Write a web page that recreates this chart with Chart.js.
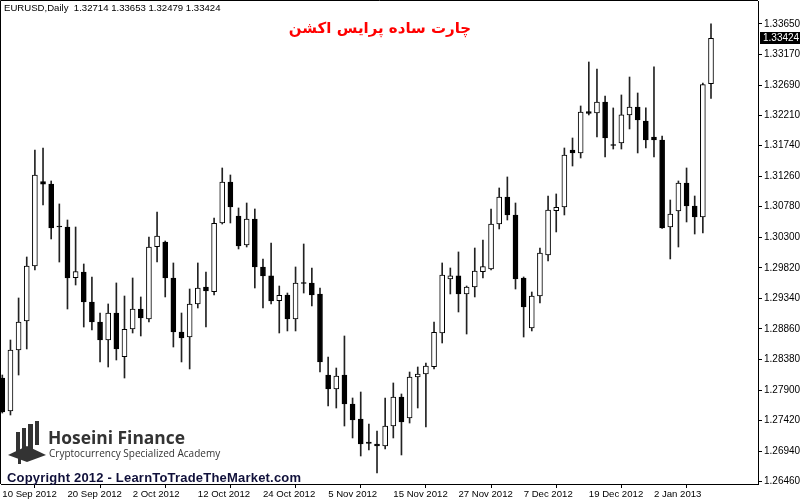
<!DOCTYPE html>
<html>
<head>
<meta charset="utf-8">
<script src="https://cdn.jsdelivr.net/npm/chart.js@4.4.0/dist/chart.umd.min.js"></script>
<style>
body { margin: 0; background: #fff; }
#wrap { position: relative; width: 800px; height: 500px; }
.t { position: absolute; white-space: nowrap; }
</style>
</head>
<body>
<div id="wrap">
  <canvas id="myChart" width="800" height="500"></canvas>
  <div class="t" style="left:4px;top:2px;font:9.6px 'Liberation Sans';color:#000">EURUSD,Daily&nbsp; 1.32714 1.33653 1.32479 1.33424</div>
  <div class="t" dir="rtl" style="left:270px;width:220px;text-align:center;top:19px;font:bold 15px 'DejaVu Sans';color:#f00">چارت ساده پرایس اکشن</div>
  <div class="t" style="left:48px;top:425px;font:700 17.4px 'Open Sans';color:#333">Hoseini Finance</div>
  <div class="t" style="left:49px;top:446px;font:10px 'Open Sans';color:#333">Cryptocurrency Specialized Academy</div>
  <div class="t" style="left:7px;top:470px;font:bold 13px 'Liberation Sans';letter-spacing:0.2px;color:#10103a">Copyright 2012 - LearnToTradeTheMarket.com</div>
</div>
<script>
// tick labels along the bottom, one every 8 candles
const dateLabels = ['10 Sep 2012', '20 Sep 2012', '2 Oct 2012', '12 Oct 2012', '24 Oct 2012',
    '5 Nov 2012', '15 Nov 2012', '27 Nov 2012', '7 Dec 2012', '19 Dec 2012', '2 Jan 2013'];
const dateIdx = [0, 8, 16, 24, 32, 40, 48, 56, 64, 72, 80];

const priceTicks = [1.26460, 1.26940, 1.27420, 1.27900, 1.28380, 1.28860, 1.29340, 1.29820,
    1.30300, 1.30780, 1.31260, 1.31740, 1.32210, 1.32690, 1.33170, 1.33650];

const opens = [
    1.28089, 1.27571, 1.28529, 1.28985, 1.29849, 1.31173, 1.31137, 1.30469, 1.30461, 1.29665,
    1.29754, 1.29283, 1.28969, 1.28686, 1.29110, 1.28424, 1.28859, 1.29173, 1.29016, 1.30152,
    1.30226, 1.29660, 1.28812, 1.28733, 1.29252, 1.29519, 1.29445, 1.30524, 1.31168, 1.30634,
    1.30178, 1.30587, 1.29833, 1.29692, 1.29304, 1.29393, 1.29016, 1.29582, 1.29582, 1.29409,
    1.28136, 1.27916, 1.28136, 1.27681, 1.27445, 1.27084, 1.27052, 1.27021, 1.27335, 1.27791,
    1.27461, 1.28105, 1.28152, 1.28267, 1.28796, 1.29644, 1.29692, 1.29409, 1.29519, 1.29759,
    1.29801, 1.30508, 1.30932, 1.30650, 1.29660, 1.28875, 1.29377, 1.30021, 1.30717, 1.30775,
    1.31671, 1.31624, 1.32273, 1.32252, 1.32425, 1.31749, 1.31781, 1.32221, 1.32346, 1.32126,
    1.31875, 1.31828, 1.30461, 1.30713, 1.31152, 1.30791, 1.30618, 1.32714
];
const highs = [
    1.28136, 1.28686, 1.29346, 1.29990, 1.31671, 1.31702, 1.31184, 1.30823, 1.30571, 1.30461,
    1.29880, 1.29676, 1.29110, 1.29252, 1.29582, 1.29377, 1.29660, 1.29362, 1.30304, 1.30697,
    1.30241, 1.29896, 1.29110, 1.29487, 1.29896, 1.29754, 1.30603, 1.31388, 1.31278, 1.30760,
    1.30838, 1.30744, 1.29959, 1.30210, 1.29534, 1.29424, 1.29833, 1.30194, 1.29817, 1.29503,
    1.28419, 1.28246, 1.28749, 1.27775, 1.27869, 1.27367, 1.27257, 1.27775, 1.28011, 1.27838,
    1.28183, 1.28262, 1.28325, 1.28969, 1.29896, 1.29817, 1.30069, 1.29534, 1.30131, 1.30257,
    1.30744, 1.31074, 1.31247, 1.30838, 1.29676, 1.29440, 1.30131, 1.30948, 1.30980, 1.31702,
    1.31859, 1.32362, 1.33053, 1.32943, 1.32519, 1.32331, 1.32535, 1.32817, 1.32566, 1.32331,
    1.32975, 1.31891, 1.30885, 1.31184, 1.31388, 1.30948, 1.32720, 1.33653
];
const lows = [
    1.27539, 1.27508, 1.28136, 1.28545, 1.29786, 1.30807, 1.30273, 1.29911, 1.29173, 1.29550,
    1.28890, 1.28843, 1.28341, 1.28262, 1.28372, 1.28089, 1.28796, 1.28749, 1.28969, 1.29911,
    1.29362, 1.28576, 1.28341, 1.28231, 1.29189, 1.28890, 1.29393, 1.30508, 1.30524, 1.30116,
    1.30147, 1.29503, 1.29189, 1.29252, 1.28796, 1.28828, 1.28828, 1.29424, 1.29220, 1.28183,
    1.27649, 1.27618, 1.27335, 1.27147, 1.26864, 1.26958, 1.26597, 1.26974, 1.27147, 1.26880,
    1.27382, 1.27618, 1.27320, 1.28231, 1.28639, 1.29409, 1.29126, 1.28780, 1.29362, 1.29660,
    1.29786, 1.30430, 1.30571, 1.29487, 1.28733, 1.28828, 1.29267, 1.29927, 1.30383, 1.30650,
    1.31419, 1.31545, 1.32221, 1.31875, 1.31561, 1.31686, 1.31686, 1.32001, 1.31624, 1.31702,
    1.31561, 1.30440, 1.29959, 1.30147, 1.30540, 1.30351, 1.30367, 1.32479
];
const closes = [
    1.27555, 1.28529, 1.28969, 1.29849, 1.31278, 1.31132, 1.30446, 1.30461, 1.29660, 1.29759,
    1.29283, 1.28969, 1.28686, 1.29110, 1.28545, 1.28854, 1.29173, 1.29032, 1.30147, 1.30320,
    1.29660, 1.28812, 1.28718, 1.29252, 1.29503, 1.29456, 1.30519, 1.31168, 1.30775, 1.30163,
    1.30587, 1.29833, 1.29692, 1.29299, 1.29388, 1.29016, 1.29582, 1.29574, 1.29393, 1.28341,
    1.27916, 1.28121, 1.27681, 1.27429, 1.27052, 1.27060, 1.27021, 1.27335, 1.27791, 1.27398,
    1.28105, 1.28152, 1.28278, 1.28807, 1.29707, 1.29692, 1.29409, 1.29519, 1.29770, 1.29838,
    1.30508, 1.30932, 1.30650, 1.29644, 1.29205, 1.29377, 1.30053, 1.30728, 1.30771, 1.31592,
    1.31624, 1.32268, 1.32247, 1.32425, 1.31859, 1.31741, 1.32221, 1.32346, 1.32142, 1.31828,
    1.31828, 1.30446, 1.30665, 1.31152, 1.30791, 1.30618, 1.32700, 1.33424
];
const lastPrice = 1.33424;

const bodies = opens.map((o, i) => ({ x: i, y: [o, closes[i]] }));
const wicks = lows.map((l, i) => ({ x: i, y: [l, highs[i]] }));
const bodyColors = opens.map((o, i) => closes[i] >= o ? '#fff' : '#000');

// frame, last price box and logo mark
const extras = {
    id: 'extras',
    afterDraw(chart) {
        const c = chart.ctx;
        const a = chart.chartArea;
        c.save();
        c.strokeStyle = '#000';
        c.lineWidth = 1;
        c.beginPath();
        c.moveTo(Math.round(a.left) - 0.5, Math.round(a.bottom));
        c.lineTo(Math.round(a.left) - 0.5, Math.round(a.top) - 0.5);
        c.lineTo(Math.round(a.right), Math.round(a.top) - 0.5);
        c.stroke();

        const py = chart.scales.y.getPixelForValue(lastPrice);
        c.fillStyle = '#000';
        c.fillRect(760, Math.round(py) - 6, 40, 12);
        c.fillStyle = '#fff';
        c.font = '10px "Liberation Sans"';
        c.textBaseline = 'middle';
        c.fillText(lastPrice.toFixed(5), 763, py);

        // logo
        c.fillStyle = '#333';
        c.fillRect(16, 432, 4, 20);
        c.fillRect(22, 428, 4, 24);
        c.fillRect(28, 424, 5, 26);
        c.fillRect(35, 421, 4, 24);
        c.beginPath();
        c.moveTo(8, 455); c.lineTo(27, 446); c.lineTo(46, 455); c.lineTo(27, 462);
        c.closePath();
        c.fill();
        c.fillRect(18, 457, 3, 7);
        c.restore();
    }
};

const noPad = s => { s.paddingTop = 0; s.paddingBottom = 0; s.paddingLeft = 0; s.paddingRight = 0; };

const myChart = new Chart(document.getElementById('myChart'), {
    type: 'bar',
    data: {
        datasets: [{
            data: bodies,
            backgroundColor: bodyColors,
            borderColor: '#000',
            borderWidth: 1,
            borderSkipped: false,
            barThickness: 5,
            minBarLength: 1,
            grouped: false,
            order: 0
        }, {
            data: wicks,
            backgroundColor: '#222',
            borderWidth: 0,
            barThickness: 1,
            grouped: false,
            order: 1
        }]
    },
    options: {
        responsive: false,
        animation: false,
        layout: { padding: { left: 1, top: 1 } },
        plugins: { legend: { display: false }, tooltip: { enabled: false } },
        scales: {
            x: {
                type: 'linear',
                min: -0.16,
                max: 92.77,
                offset: false,
                grid: { drawOnChartArea: false, color: '#000', tickLength: 4 },
                border: { color: '#000' },
                afterBuildTicks: s => { s.ticks = dateIdx.map(v => ({ value: v })); },
                afterFit: s => { s.height = 16; noPad(s); },
                ticks: {
                    autoSkip: false,
                    maxRotation: 0,
                    align: 'start',
                    padding: 1,
                    color: '#000',
                    font: { family: 'Liberation Sans', size: 9.6 },
                    callback: (v, i) => dateLabels[i]
                }
            },
            y: {
                position: 'right',
                min: 1.26424,
                max: 1.34011,
                grid: { drawOnChartArea: false, color: '#000', tickLength: 4 },
                border: { color: '#000' },
                afterBuildTicks: s => { s.ticks = priceTicks.map(v => ({ value: v })); },
                afterFit: s => { s.width = 42; noPad(s); },
                ticks: {
                    padding: 2,
                    color: '#000',
                    font: { family: 'Liberation Sans', size: 10 },
                    callback: v => v.toFixed(5)
                }
            }
        }
    },
    plugins: [extras]
});
</script>
</body>
</html>
